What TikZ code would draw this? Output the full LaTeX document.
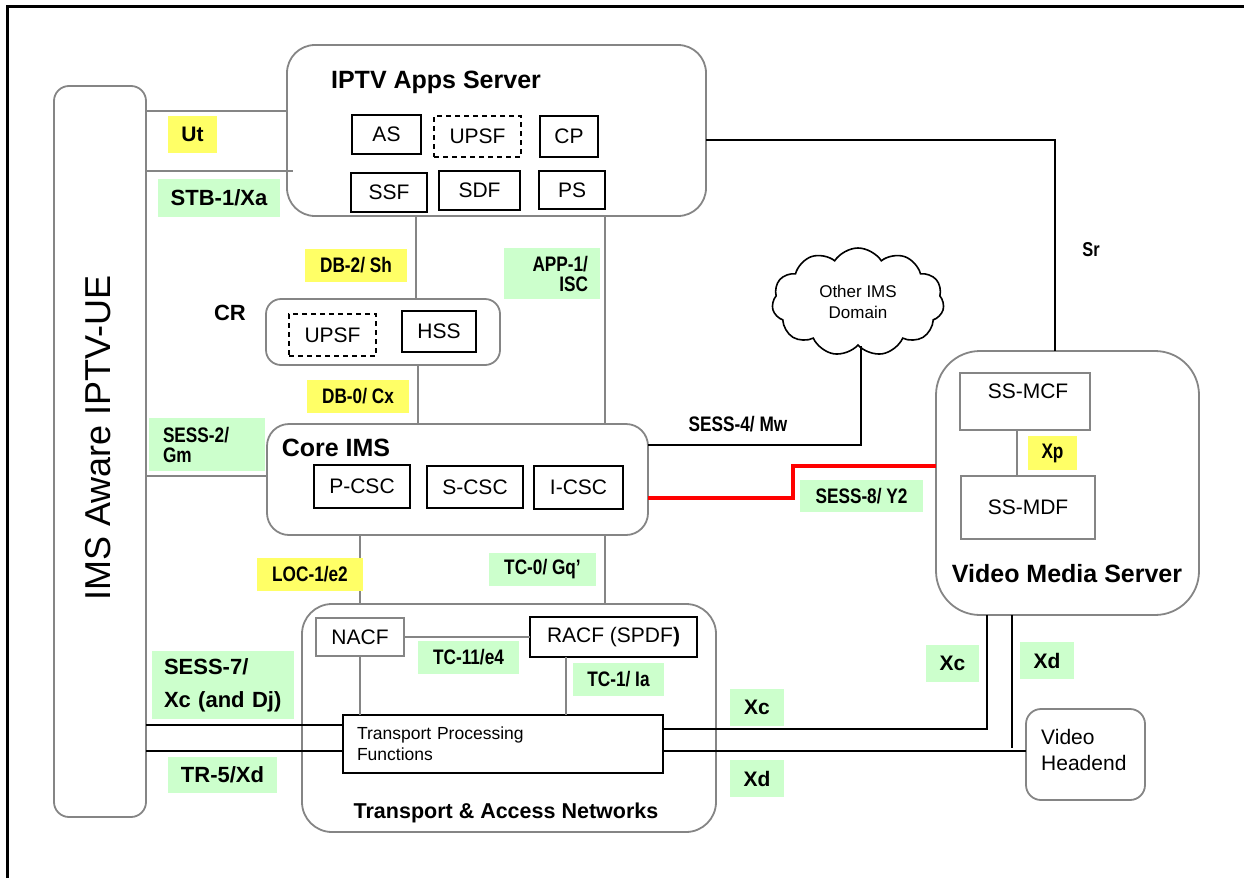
\documentclass[tikz,border=0pt]{standalone}
\usepackage{fontspec}
\setmainfont{Liberation Sans}
\newfontfamily\narrowfont[FakeStretch=0.82]{Liberation Sans}
\usetikzlibrary{shapes.symbols}
\definecolor{gr}{HTML}{858585}
\definecolor{yel}{HTML}{FFFF66}
\definecolor{grn}{HTML}{CCFFCC}
\definecolor{redl}{HTML}{FF0000}
\tikzset{
  bb/.style n args={4}{at={({(#1+#3)/2},{(#2+#4)/2})}, anchor=center,
      minimum width={#3-#1}, minimum height={#4-#2}},
  grp/.style={draw=gr, line width=1.8pt, rounded corners=#1, inner sep=0pt, outer sep=0pt},
  ibox/.style={draw=black, line width=1.6pt, inner sep=0pt, outer sep=0pt, font=\fontsize{21}{25}\selectfont},
  dbox/.style={ibox, dash pattern=on 5pt off 4pt},
  gbox/.style={draw=gr, line width=2.8pt, inner sep=0pt, outer sep=0pt, font=\fontsize{21}{25}\selectfont},
  ylab/.style={fill=yel, inner sep=0pt, outer sep=0pt, font=\narrowfont\bfseries\fontsize{21}{20}\selectfont},
  glab/.style={fill=grn, inner sep=0pt, outer sep=0pt, font=\narrowfont\bfseries\fontsize{21}{20}\selectfont},
  wlab/.style={font=\bfseries\fontsize{21}{25}\selectfont},
  nlab/.style={inner sep=0pt, font=\narrowfont\bfseries\fontsize{21}{25}\selectfont},
  title/.style={inner sep=0pt, font=\bfseries\fontsize{25}{30}\selectfont},
  plain/.style={inner sep=0pt, font=\fontsize{21}{25}\selectfont},
  gline/.style={draw=gr, line width=1.8pt},
  bline/.style={draw=black, line width=2.2pt},
}
\begin{document}
\begin{tikzpicture}[x=1pt,y=-1pt]
\useasboundingbox (0,0) rectangle (1244,878);
% outer frame (top and left edges only)
\draw[line width=3pt] (7,878) -- (7,6) -- (1244,6);

% ---------- UE ----------
\node[grp=15pt, bb={54}{86}{146}{817}] (ue) {};
\node[inner sep=0pt, rotate=90, font=\fontsize{36}{40}\selectfont] (uet) at (98,438) {IMS Aware IPTV-UE};

% ---------- IPTV Apps Server ----------
\node[grp=28pt, bb={287}{45}{706}{216}] (apps) {};
\node[title] (appst) at (436,82) {IPTV Apps Server};
\node[ibox, bb={352}{115}{421}{154}] (as) {AS};
\node[dbox, bb={434}{116}{521}{157}] (upsf1) {UPSF};
\node[ibox, bb={540}{116}{598}{157}] (cp) {CP};
\node[ibox, bb={351}{173}{427}{212}] (ssf) {SSF};
\node[ibox, bb={439}{171}{520}{210}] (sdf) {SDF};
\node[ibox, bb={539}{171}{605}{209}] (ps) {PS};

% ---------- CR ----------
\node[title, font=\bfseries\fontsize{22}{26}\selectfont] (crt) at (230,313) {CR};
\node[grp=15pt, bb={266}{299}{500}{365}] (cr) {};
\node[dbox, bb={289}{314}{376}{356}] (upsf2) {UPSF};
\node[ibox, bb={402}{311}{476}{352}] (hss) {HSS};

% ---------- Core IMS ----------
\node[grp=22pt, bb={267}{424}{648}{535}] (core) {};
\node[title] (coret) at (336,448) {Core IMS};
\node[ibox, bb={314}{465}{410}{508}] (pcsc) {P-CSC};
\node[ibox, bb={427}{466}{523}{508}] (scsc) {S-CSC};
\node[ibox, bb={534}{466}{623}{509}] (icsc) {I-CSC};

% ---------- cloud ----------
\node[cloud, draw, line width=1.6pt, cloud puffs=11, cloud puff arc=115, aspect=1.6,
      minimum width=172pt, minimum height=108pt, inner sep=0pt, align=center,
      font=\fontsize{17}{21}\selectfont] (cloud) at (858,302) {Other IMS\\Domain};

% ---------- Video Media Server ----------
\node[grp=44pt, bb={936}{351}{1199}{615}] (vms) {};
\node[gbox, bb={960}{373}{1090}{430}] (mcf) {};
\node[plain] (mcft) at (1028,391) {SS-MCF};
\node[gbox, bb={961}{476}{1095}{539}] (mdf) {SS-MDF};
\node[title] (vmst) at (1067,574) {Video Media Server};

% ---------- Video Headend ----------
\node[grp=15pt, bb={1026}{709}{1145}{800}] (vh) {};
\node[plain, anchor=west, align=left, font=\fontsize{21}{26}\selectfont] (vht) at (1041,750) {Video\\Headend};

% ---------- Transport & Access Networks ----------
\node[grp=30pt, bb={302}{604}{716}{832}] (tan) {};
\node[title, font=\bfseries\fontsize{21.5}{26}\selectfont] (tant) at (506,813) {Transport \& Access Networks};
\node[gbox, bb={316}{618}{404}{656}] (nacf) {NACF};
\node[ibox, bb={530}{617}{697}{657}] (racf) {RACF (SPDF\textbf{)}};
\node[ibox, bb={343}{715}{663}{773}, text width=292pt, align=left,
      font=\fontsize{17.5}{21}\selectfont] (tpf) {Transport Processing\\Functions};

% ---------- helper coordinates ----------
\coordinate (hUt) at (0,111);
\coordinate (hStb) at (0,171);
\coordinate (hSr) at (0,140);
\coordinate (vSr) at (1055,0);
\coordinate (vSh) at (416,0);
\coordinate (vIsc) at (605,0);
\coordinate (vCx) at (418,0);
\coordinate (hGm) at (0,476);
\coordinate (hMw) at (0,445);
\coordinate (vMw) at (861,0);
\coordinate (hY2) at (0,498);
\coordinate (vY2) at (793,0);
\coordinate (hY2b) at (0,466);
\coordinate (vLoc) at (360,0);
\coordinate (vGq) at (605,0);
\coordinate (hE4) at (0,637);
\coordinate (vNa) at (360,0);
\coordinate (vIa) at (566,0);
\coordinate (hUe1) at (0,725);
\coordinate (hUe2) at (0,751);
\coordinate (hXcR) at (0,729);
\coordinate (hXdR) at (0,751);
\coordinate (vXc) at (987,0);
\coordinate (vXd) at (1012,0);
\coordinate (endXd) at (1012,748);
\coordinate (vXp) at (1017,0);
\coordinate (stbEnd) at (293,171);

% ---------- connectors ----------
\draw[gline] (ue.east |- hUt) -- (apps.west |- hUt);
\draw[gline] (ue.east |- hStb) -- (stbEnd);
\draw[gline] (apps.south -| vSh) -- (cr.north -| vSh);
\draw[gline] (apps.south -| vIsc) -- (core.north -| vIsc);
\draw[gline] (cr.south -| vCx) -- (core.north -| vCx);
\draw[gline] (ue.east |- hGm) -- (core.west |- hGm);
\draw[gline] (core.south -| vLoc) -- (tan.north -| vLoc);
\draw[gline] (core.south -| vGq) -- (tan.north -| vGq);
\draw[gline] (nacf.east |- hE4) -- (racf.west |- hE4);
\draw[gline] (nacf.south -| vNa) -- (tpf.north -| vNa);
\draw[gline] (racf.south -| vIa) -- (tpf.north -| vIa);
\draw[gline] (mcf.south -| vXp) -- (mdf.north -| vXp);
\draw[bline] (apps.east |- hSr) -| (vms.north -| vSr);
\draw[bline] (core.east |- hMw) -| (cloud.south -| vMw);
\draw[redl, line width=4.5pt] (core.east |- hY2) -| (vY2 |- hY2b) -- (vms.west |- hY2b);
\draw[black, line width=2pt] (ue.east |- hUe1) -- (tpf.west |- hUe1);
\draw[black, line width=2pt] (ue.east |- hUe2) -- (tpf.west |- hUe2);
\draw[black, line width=2pt] (tpf.east |- hXcR) -| (vms.south -| vXc);
\draw[black, line width=2pt] (tpf.east |- hXdR) -- (vh.west |- hXdR);
\draw[black, line width=2.2pt] (vms.south -| vXd) -- (endXd);

% ---------- interface labels ----------
\node[ylab, wlab, bb={168}{116}{217}{153}] (lUt) {Ut};
\node[glab, font=\bfseries\fontsize{22}{26}\selectfont, bb={158}{179}{280}{217}] (lStb) {STB-1/Xa};
\node[ylab, bb={305}{249}{407}{282}] (lSh) {DB-2/ Sh};
\node[glab, bb={504}{248}{600}{299}, text width=72pt, align=right] (lIsc) {APP-1/\\ISC};
\node[ylab, bb={307}{380}{409}{413}] (lCx) {DB-0/ Cx};
\node[glab, bb={149}{418}{265}{471}, text width=88pt, align=left] (lGm) {SESS-2/\\Gm};
\node[ylab, bb={257}{558}{363}{591}] (lLoc) {LOC-1/e2};
\node[glab, bb={489}{553}{596}{586}] (lGq) {TC-0/ Gq’};
\node[nlab] (lMw) at (738,424) {SESS-4/ Mw};
\node[glab, bb={800}{480}{923}{512}] (lY2) {SESS-8/ Y2};
\node[ylab, bb={1028}{436}{1077}{470}] (lXp) {Xp};
\node[nlab, font=\narrowfont\bfseries\fontsize{20}{24}\selectfont] (lSr) at (1091,250) {Sr};
\node[glab, bb={418}{641}{519}{674}] (lE4) {TC-11/e4};
\node[glab, bb={573}{663}{664}{696}] (lIa) {TC-1/ Ia};
\node[glab, bb={152}{651}{294}{719}, text width=118pt, align=left,
      font=\bfseries\fontsize{22}{33}\selectfont] (lSess7) {SESS-7/\\Xc (and Dj)};
\node[glab, bb={168}{757}{277}{793}, font=\bfseries\fontsize{22}{26}\selectfont] (lTr5) {TR-5/Xd};
\node[glab, wlab, bb={730}{689}{784}{726}] (lXc1) {Xc};
\node[glab, wlab, bb={730}{760}{784}{797}] (lXd1) {Xd};
\node[glab, wlab, bb={926}{645}{979}{682}] (lXc2) {Xc};
\node[glab, wlab, bb={1020}{642}{1074}{679}] (lXd2) {Xd};
\end{tikzpicture}
\end{document}
